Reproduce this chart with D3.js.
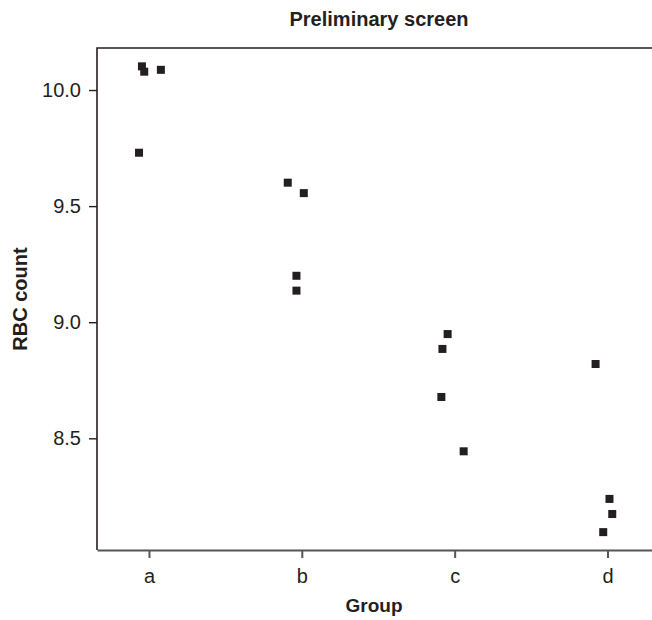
<!DOCTYPE html>
<html>
<head>
<meta charset="utf-8">
<script src="https://cdn.jsdelivr.net/npm/d3@7"></script>
<style>
  html, body { margin: 0; padding: 0; background: #fff; }
  svg { display: block; font-family: "Liberation Sans", Arial, Helvetica, sans-serif; }
</style>
</head>
<body>
<svg id="chart" width="652" height="620"></svg>
<script>
// Group labels along the x axis
const groups = ["a", "b", "c", "d"];
// RBC count per sample, listed by group
const groupOf = ["a","a","a","a", "b","b","b","b", "c","c","c","c", "d","d","d","d"];
const rbcValues = [10.102, 10.079, 10.087, 9.730,
                   9.601, 9.556, 9.200, 9.136,
                   8.949, 8.885, 8.678, 8.444,
                   8.820, 8.239, 8.174, 8.096];
// horizontal jitter of each sample, in group units
const jitter = [-0.046, -0.031, 0.078, -0.065,
                -0.092, 0.013, -0.035, -0.035,
                -0.046, -0.080, -0.087, 0.059,
                -0.078, 0.013, 0.031, -0.028];
const yTicks = [8.5, 9.0, 9.5, 10.0];

const svg = d3.select("#chart");
const plotL = 97, plotR = 661, plotT = 48, plotB = 550;

const x = d3.scaleLinear().domain([0.66, 4.35]).range([plotL, plotR]);
const y = d3.scaleLinear().domain([8.019, 10.181]).range([plotB, plotT]);
const gx = g => groups.indexOf(g) + 1;

const ink = "#231f20";

// frame: top and left edges
svg.append("path")
  .attr("d", `M${plotL},${plotB} V${plotT} H${plotR}`)
  .attr("fill", "none").attr("stroke", ink).attr("stroke-width", 1.6);

// x axis
const xAxis = d3.axisBottom(x)
  .tickValues(groups.map((g, i) => i + 1))
  .tickFormat((d) => groups[d - 1])
  .tickSize(8).tickSizeOuter(0).tickPadding(11);
const gX = svg.append("g").attr("transform", `translate(0,${plotB})`).call(xAxis);
gX.select(".domain").attr("stroke", "#555").attr("stroke-width", 2);
gX.selectAll(".tick line").attr("stroke", "#555").attr("stroke-width", 2);
gX.selectAll(".tick text").attr("fill", ink).style("font-size", "20px");

// y axis
const yAxis = d3.axisLeft(y)
  .tickValues(yTicks)
  .tickFormat(d3.format(".1f"))
  .tickSize(8).tickSizeOuter(0).tickPadding(8);
const gY = svg.append("g").attr("transform", `translate(${plotL},0)`).call(yAxis);
gY.select(".domain").remove();
gY.selectAll(".tick line").attr("stroke", ink).attr("stroke-width", 1.4);
gY.selectAll(".tick text").attr("fill", ink).style("font-size", "20px");

// sample points
const sz = 8;
svg.append("g").selectAll("rect")
  .data(rbcValues)
  .join("rect")
  .attr("x", (v, i) => x(gx(groupOf[i]) + jitter[i]) - sz / 2)
  .attr("y", v => y(v) - sz / 2)
  .attr("width", sz).attr("height", sz)
  .attr("fill", ink);

// titles
svg.append("text")
  .attr("x", (plotL + plotR) / 2).attr("y", 26)
  .attr("text-anchor", "middle").attr("fill", ink)
  .style("font-size", "20px").style("font-weight", "bold")
  .text("Preliminary screen");

svg.append("text")
  .attr("x", 374).attr("y", 612)
  .attr("text-anchor", "middle").attr("fill", ink)
  .style("font-size", "19px").style("font-weight", "bold")
  .text("Group");

svg.append("text")
  .attr("transform", `translate(27,${(plotT + plotB) / 2}) rotate(-90)`)
  .attr("text-anchor", "middle").attr("fill", ink)
  .style("font-size", "20px").style("font-weight", "bold")
  .text("RBC count");
</script>
</body>
</html>
